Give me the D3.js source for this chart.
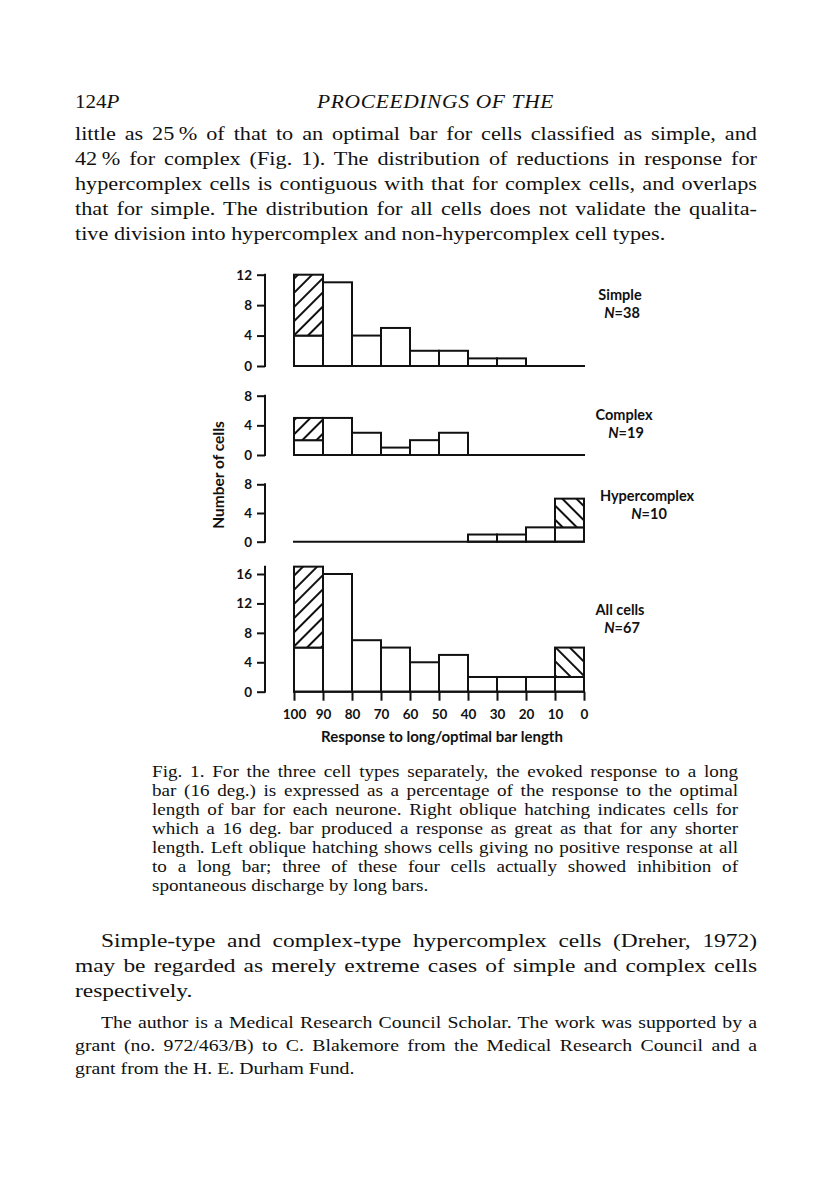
<!DOCTYPE html>
<html>
<head>
<meta charset="utf-8">
<script src="https://cdn.jsdelivr.net/npm/d3@7"></script>
<style>
  body { margin: 0; background: #fff; }
  #page { position: relative; width: 816px; height: 1198px; overflow: hidden; }
  .ln { position: absolute; white-space: nowrap; font-family: "Liberation Serif", serif; color: #111;
        text-align: justify; text-align-last: justify; transform-origin: 0 0; }
  .ln.last { text-align-last: left; }
  svg { position: absolute; left: 0; top: 0; }
</style>
</head>
<body>
<div id="page"><svg id="chart" width="816" height="1198"></svg></div>
<script>
// bins: upper edge of each 10% bin (100-90, 90-80, ... 10-0)
var bins = [100, 90, 80, 70, 60, 50, 40, 30, 20, 10];
var xTicks = [100, 90, 80, 70, 60, 50, 40, 30, 20, 10, 0];

var simplePlain = [4, 11, 4, 5, 2, 2, 1, 1, 0, 0];
var simpleRight = [8, 0, 0, 0, 0, 0, 0, 0, 0, 0];
var complexPlain = [2, 5, 3, 1, 2, 3, 0, 0, 0, 0];
var complexRight = [3, 0, 0, 0, 0, 0, 0, 0, 0, 0];
var hyperPlain = [0, 0, 0, 0, 0, 0, 1, 1, 2, 2];
var hyperLeft = [0, 0, 0, 0, 0, 0, 0, 0, 0, 4];
var allPlain = [6, 16, 7, 6, 4, 5, 2, 2, 2, 2];
var allRight = [11, 0, 0, 0, 0, 0, 0, 0, 0, 0];
var allLeft = [0, 0, 0, 0, 0, 0, 0, 0, 0, 4];
var zeros = [0, 0, 0, 0, 0, 0, 0, 0, 0, 0];

var panelNames = ["Simple", "Complex", "Hypercomplex", "All cells"];
var panelN = [38, 19, 10, 67];
var yTicks = [[0, 4, 8, 12], [0, 4, 8], [0, 4, 8], [0, 4, 8, 12, 16]];

var headerLines = ["124", "PROCEEDINGS OF THE"];
var bodyLines = [
  "little as 25\u2009% of that to an optimal bar for cells classified as simple, and",
  "42\u2009% for complex (Fig. 1). The distribution of reductions in response for",
  "hypercomplex cells is contiguous with that for complex cells, and overlaps",
  "that for simple. The distribution for all cells does not validate the qualita-",
  "tive division into hypercomplex and non-hypercomplex cell types."
];
var captionLines = [
  "Fig. 1. For the three cell types separately, the evoked response to a long",
  "bar (16 deg.) is expressed as a percentage of the response to the optimal",
  "length of bar for each neurone. Right oblique hatching indicates cells for",
  "which a 16 deg. bar produced a response as great as that for any shorter",
  "length. Left oblique hatching shows cells giving no positive response at all",
  "to a long bar; three of these four cells actually showed inhibition of",
  "spontaneous discharge by long bars."
];
var paraLines = [
  "Simple-type and complex-type hypercomplex cells (Dreher, 1972)",
  "may be regarded as merely extreme cases of simple and complex cells",
  "respectively."
];
var noteLines = [
  "The author is a Medical Research Council Scholar. The work was supported by a",
  "grant (no. 972/463/B) to C. Blakemore from the Medical Research Council and a",
  "grant from the H. E. Durham Fund."
];

var page = d3.select("#page");
var meas = page.append("span")
  .style("position", "absolute").style("visibility", "hidden")
  .style("white-space", "nowrap").style("font-family", "'Liberation Serif', serif");

function natural(t, size) {
  meas.style("font-size", size + "px").text(t);
  return meas.node().getBoundingClientRect().width;
}

// justified lines; the old wide face is imitated by stretching the glyphs a little
function textBlock(lines, opts) {
  var lefts = lines.map(function (t, i) { return (i === 0 && opts.indent) ? opts.indent : opts.left; });
  var per = [];
  lines.forEach(function (t, i) {
    if (i === lines.length - 1) return;
    per.push(0.975 * (opts.right - lefts[i]) / natural(t, opts.size));
  });
  var s = Math.max(1, Math.min(opts.maxScale, d3.min(per)));
  lines.forEach(function (t, i) {
    page.append("div")
      .attr("class", "ln" + (i === lines.length - 1 ? " last" : ""))
      .style("left", lefts[i] + "px")
      .style("width", ((opts.right - lefts[i]) / s) + "px")
      .style("top", (opts.top + i * opts.step) + "px")
      .style("font-size", opts.size + "px")
      .style("line-height", opts.step + "px")
      .style("transform", "scaleX(" + s.toFixed(3) + ")")
      .text(t);
  });
}

// running header
page.append("div").attr("class", "ln last")
  .style("left", "75px").style("top", "91px").style("font-size", "19.5px")
  .style("transform", "scaleX(1.08)")
  .html(headerLines[0] + "<i>P</i>");
page.append("div").attr("class", "ln last")
  .style("left", "317px").style("top", "91px").style("font-size", "19.5px")
  .style("font-style", "italic").style("transform", "scaleX(1.1)").style("letter-spacing", "0.6px")
  .text(headerLines[1]);

textBlock(bodyLines, { left: 75, right: 757, top: 121, step: 25, size: 19.5, maxScale: 1.2 });
textBlock(captionLines, { left: 152, right: 738, top: 762, step: 19, size: 16, maxScale: 1.2 });
textBlock(paraLines, { left: 75, indent: 101, right: 757, top: 928, step: 25, size: 19.5, maxScale: 1.2 });
textBlock(noteLines, { left: 75, indent: 101, right: 757, top: 1011, step: 23, size: 16.5, maxScale: 1.2 });

// ---- chart ----
var svg = d3.select("#chart");
var sans = "Lato, 'Open Sans', sans-serif";

var defs = svg.append("defs");
function hatch(id, angle) {
  defs.append("pattern")
    .attr("id", id)
    .attr("width", 10).attr("height", 10)
    .attr("patternUnits", "userSpaceOnUse")
    .attr("patternTransform", "rotate(" + angle + ")")
    .append("line")
    .attr("x1", 5).attr("y1", 0).attr("x2", 5).attr("y2", 10)
    .attr("stroke", "#111").attr("stroke-width", 2);
}
hatch("hatchRight", 45);
hatch("hatchLeft", -45);

var x = d3.scaleLinear().domain([100, 0]).range([294, 584]);

var panels = [
  { plain: simplePlain, right: simpleRight, left: zeros, base: 366, topPx: 274.7, labelX: 620, labelY: 300 },
  { plain: complexPlain, right: complexRight, left: zeros, base: 455, topPx: 395.7, labelX: 624, labelY: 420 },
  { plain: hyperPlain, right: zeros, left: hyperLeft, base: 541.7, topPx: 484.3, labelX: 647, labelY: 501 },
  { plain: allPlain, right: allRight, left: allLeft, base: 691.7, topPx: 574, labelX: 620, labelY: 615 }
];

panels.forEach(function (p, k) {
  var ticks = yTicks[k];
  var y = d3.scaleLinear().domain([0, d3.max(ticks)]).range([p.base, p.topPx]);
  var g = svg.append("g");

  var rows = bins.map(function (b, i) {
    return { b: b, plain: p.plain[i], right: p.right[i], left: p.left[i] };
  });

  // plain part
  g.selectAll(".plain")
    .data(rows.filter(function (d) { return d.plain > 0; }))
    .join("rect")
    .attr("x", function (d) { return x(d.b); })
    .attr("width", function (d) { return x(d.b - 10) - x(d.b); })
    .attr("y", function (d) { return y(d.plain); })
    .attr("height", function (d) { return y(0) - y(d.plain); })
    .attr("fill", "#fff")
    .attr("stroke", "#111")
    .attr("stroke-width", 2);

  // hatched part stacked on top
  var hatched = [];
  rows.forEach(function (d) {
    if (d.right > 0) hatched.push({ b: d.b, lo: d.plain, hi: d.plain + d.right, fill: "url(#hatchRight)" });
    if (d.left > 0) hatched.push({ b: d.b, lo: d.plain, hi: d.plain + d.left, fill: "url(#hatchLeft)" });
  });
  var hg = g.selectAll(".hatch").data(hatched).join("g");
  hg.append("rect")
    .attr("x", function (d) { return x(d.b); })
    .attr("width", function (d) { return x(d.b - 10) - x(d.b); })
    .attr("y", function (d) { return y(d.hi); })
    .attr("height", function (d) { return y(d.lo) - y(d.hi); })
    .attr("fill", "#fff");
  hg.append("rect")
    .attr("x", function (d) { return x(d.b); })
    .attr("width", function (d) { return x(d.b - 10) - x(d.b); })
    .attr("y", function (d) { return y(d.hi); })
    .attr("height", function (d) { return y(d.lo) - y(d.hi); })
    .attr("fill", function (d) { return d.fill; })
    .attr("stroke", "#111")
    .attr("stroke-width", 2);

  // baseline
  g.append("line")
    .attr("x1", x(100) - 1).attr("x2", x(0) + 1)
    .attr("y1", y(0)).attr("y2", y(0))
    .attr("stroke", "#111").attr("stroke-width", 2);

  // y axis
  var totals = rows.map(function (d) { return d.plain + d.right + d.left; });
  var yTop = Math.max(d3.max(ticks), d3.max(totals));
  var ax = g.append("g")
    .attr("transform", "translate(265,0)")
    .call(d3.axisLeft(y).tickValues(ticks).tickSize(8).tickPadding(5).tickFormat(d3.format("d")));
  ax.select(".domain").remove();
  ax.selectAll(".tick line").attr("stroke", "#111").attr("stroke-width", 2);
  ax.selectAll(".tick text")
    .attr("fill", "#111")
    .style("font-family", sans).style("font-weight", 700).style("font-size", "13.5px");
  ax.append("line")
    .attr("x1", 0).attr("x2", 0)
    .attr("y1", y(0) + 1).attr("y2", y(yTop) - 1)
    .attr("stroke", "#111").attr("stroke-width", 2);

  // panel label
  var lab = g.append("text")
    .attr("x", p.labelX).attr("y", p.labelY)
    .attr("text-anchor", "middle")
    .style("font-family", sans).style("font-weight", 700).style("font-size", "14.5px")
    .attr("fill", "#111");
  lab.append("tspan").text(panelNames[k]);
  var nl = lab.append("tspan").attr("x", p.labelX + 2).attr("dy", 18);
  nl.append("tspan").style("font-style", "italic").text("N");
  nl.append("tspan").text("=" + panelN[k]);

  if (k === 3) {
    var xa = svg.append("g")
      .attr("transform", "translate(0," + y(0) + ")")
      .call(d3.axisBottom(x).tickValues(xTicks).tickSize(9).tickPadding(9).tickSizeOuter(0).tickFormat(d3.format("d")));
    xa.select(".domain").remove();
    xa.selectAll(".tick line").attr("stroke", "#111").attr("stroke-width", 2);
    xa.selectAll(".tick text")
      .attr("fill", "#111")
      .style("font-family", sans).style("font-weight", 700).style("font-size", "13.5px");
    svg.append("text")
      .attr("x", 442).attr("y", 742)
      .attr("text-anchor", "middle")
      .style("font-family", sans).style("font-weight", 700).style("font-size", "15px")
      .attr("fill", "#111")
      .text("Response to long/optimal bar length");
  }
});

svg.append("text")
  .attr("transform", "translate(224,475) rotate(-90)")
  .attr("text-anchor", "middle")
  .style("font-family", sans).style("font-weight", 700).style("font-size", "15.5px")
  .attr("fill", "#111")
  .text("Number of cells");
</script>
</body>
</html>
